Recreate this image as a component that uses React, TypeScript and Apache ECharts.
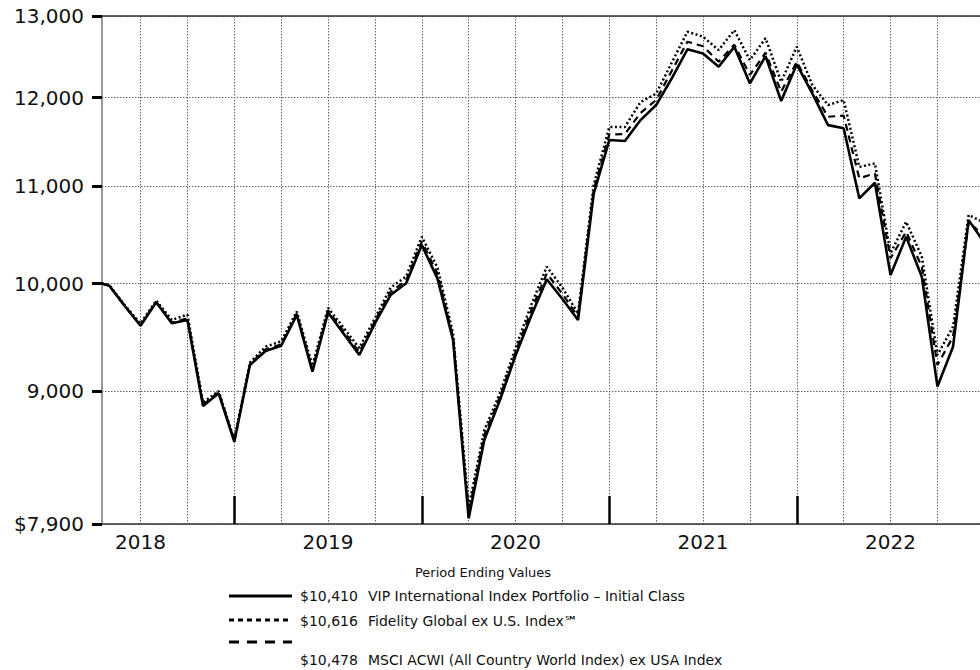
import React, { useEffect, useRef } from "react";
import * as echarts from "echarts";

// Inception date followed by month-end periods
const periods = [
  "2018-04-17", "2018-04", "2018-05", "2018-06", "2018-07", "2018-08", "2018-09", "2018-10", "2018-11", "2018-12",
  "2019-01", "2019-02", "2019-03", "2019-04", "2019-05", "2019-06", "2019-07", "2019-08", "2019-09", "2019-10", "2019-11", "2019-12",
  "2020-01", "2020-02", "2020-03", "2020-04", "2020-05", "2020-06", "2020-07", "2020-08", "2020-09", "2020-10", "2020-11", "2020-12",
  "2021-01", "2021-02", "2021-03", "2021-04", "2021-05", "2021-06", "2021-07", "2021-08", "2021-09", "2021-10", "2021-11", "2021-12",
  "2022-01", "2022-02", "2022-03", "2022-04", "2022-05", "2022-06", "2022-07", "2022-08", "2022-09", "2022-10", "2022-11", "2022-12",
];

const portfolio = [
  10000, 9980, 9780, 9595, 9818, 9618, 9649, 8869, 8980, 8564,
  9233, 9360, 9409, 9697, 9172, 9720, 9520, 9324, 9618, 9888, 10003, 10385,
  10051, 9462, 7944, 8578, 8921, 9320, 9687, 10042, 9850, 9649, 10918, 11511,
  11500, 11739, 11913, 12230, 12582, 12532, 12369, 12613, 12168, 12499, 11960, 12398,
  12047, 11681, 11645, 10872, 11039, 10084, 10470, 10068, 9041, 9400, 10642, 10410,
];

const globalExUS = [
  10000, 9985, 9790, 9615, 9835, 9650, 9700, 8900, 9000, 8580,
  9255, 9400, 9450, 9730, 9225, 9765, 9575, 9388, 9665, 9960, 10070, 10470,
  10160, 9524, 8030, 8660, 8980, 9390, 9792, 10167, 9960, 9712, 11014, 11658,
  11660, 11948, 12047, 12420, 12801, 12739, 12573, 12821, 12450, 12719, 12188, 12613,
  12148, 11912, 11972, 11212, 11251, 10302, 10625, 10267, 9324, 9586, 10696, 10616,
];

const acwiExUSA = [
  10000, 9980, 9780, 9600, 9822, 9625, 9665, 8880, 8990, 8570,
  9240, 9375, 9420, 9710, 9195, 9740, 9545, 9350, 9640, 9920, 10030, 10420,
  10100, 9490, 7990, 8620, 8950, 9350, 9740, 10100, 9900, 9680, 10960, 11574,
  11580, 11821, 11972, 12320, 12676, 12620, 12430, 12640, 12270, 12540, 12070, 12429,
  12080, 11777, 11790, 11088, 11140, 10251, 10521, 10167, 9233, 9493, 10620, 10478,
];

const yTicks = [7900, 9000, 10000, 11000, 12000, 13000];
const yearLabels = ["2018", "2019", "2020", "2021", "2022"];

const legendTitle = "Period Ending Values";
const legendValues = ["$10,410", "$10,616", "$10,478"];
const legendNames = [
  "VIP International Index Portfolio – Initial Class",
  "Fidelity Global ex U.S. Index℠",
  "MSCI ACWI (All Country World Index) ex USA Index",
];

const FONT = '"DejaVu Sans", Verdana, sans-serif';

function toX(p: string): number {
  const parts = p.split("-").map(Number);
  const y = parts[0];
  const m = parts[1];
  if (parts.length === 3) {
    const dim = new Date(y, m, 0).getDate();
    return (y - 2018) * 12 + (m - 1) + (parts[2] - 1) / dim;
  }
  return (y - 2018) * 12 + m;
}

export default function App() {
  const ref = useRef<HTMLDivElement>(null);

  useEffect(() => {
    if (!ref.current) return;
    const chart = echarts.init(ref.current, undefined, { renderer: "svg" });
    const xs = periods.map(toX);
    const xMin = xs[0];
    const xMax = xs[xs.length - 1];
    const quarterLines: number[] = [];
    for (let q = Math.ceil(xMin / 3) * 3; q <= xMax; q += 3) quarterLines.push(q);
    const yearTicks = yearLabels.slice(1).map((_, i) => (i + 1) * 12);
    const yearMids = yearLabels.map((_, i) => i * 12 + 6);

    const mk = (vals: number[]) => vals.map((v, i) => [xs[i], v]);

    const legendYs = [596, 620, 642];
    const textYs = [596, 621, 660];
    const dashes: any[] = [null, [5, 4], [10, 8]];

    const graphic: any[] = [
      {
        type: "text",
        x: 483,
        y: 572,
        style: { text: legendTitle, fill: "#111", font: `13px ${FONT}`, align: "center", verticalAlign: "middle" },
      },
    ];
    legendNames.forEach((name, i) => {
      graphic.push({
        type: "line",
        shape: { x1: 229, y1: legendYs[i], x2: 292, y2: legendYs[i] },
        style: { stroke: "#000", lineWidth: 3, lineDash: dashes[i] || undefined },
      });
      graphic.push({
        type: "text",
        x: 300,
        y: textYs[i],
        style: { text: legendValues[i], fill: "#111", font: `14px ${FONT}`, align: "left", verticalAlign: "middle" },
      });
      graphic.push({
        type: "text",
        x: 368,
        y: textYs[i],
        style: { text: name, fill: "#111", font: `14px ${FONT}`, align: "left", verticalAlign: "middle" },
      });
    });

    chart.setOption({
      animation: false,
      backgroundColor: "#fff",
      grid: { left: 102, top: 16, width: (xMax - xMin) * 15.625, height: 508 },
      xAxis: [
        {
          type: "value",
          min: xMin,
          max: xMax,
          position: "bottom",
          axisLine: { show: true, lineStyle: { color: "#333", width: 1.5 } },
          axisTick: {
            show: true,
            customValues: yearTicks,
            inside: true,
            length: 28,
            lineStyle: { color: "#000", width: 2.5 },
          },
          axisLabel: {
            show: true,
            customValues: yearMids,
            formatter: (v: number) => yearLabels[Math.round((v - 6) / 12)] || "",
            fontSize: 20,
            fontFamily: FONT,
            color: "#111",
            margin: 8,
          },
          splitLine: { show: false },
        },
        {
          type: "value",
          min: xMin,
          max: xMax,
          position: "top",
          axisLine: { show: true, lineStyle: { color: "#333", width: 1.5 } },
          axisTick: { show: false, customValues: quarterLines },
          axisLabel: { show: false },
          splitLine: { show: true, lineStyle: { color: "#666", width: 1, type: [1.5, 1.5] } },
        },
      ],
      yAxis: {
        type: "log",
        logBase: 10,
        min: yTicks[0],
        max: yTicks[yTicks.length - 1],
        axisLine: { show: true, lineStyle: { color: "#999", width: 2 } },
        axisTick: { show: true, customValues: yTicks, length: 10, lineStyle: { color: "#000", width: 3 } },
        axisLabel: {
          customValues: yTicks,
          formatter: (v: number) => (Math.round(v) === yTicks[0] ? "$" : "") + Math.round(v).toLocaleString("en-US"),
          fontSize: 20,
          fontFamily: FONT,
          color: "#111",
          margin: 18,
        },
        splitLine: { show: true, lineStyle: { color: "#666", width: 1, type: [1.5, 1.5] } },
      },
      series: [
        {
          name: legendNames[1],
          type: "line",
          data: mk(globalExUS),
          showSymbol: false,
          lineStyle: { color: "#000", width: 2.5, type: [2, 2.5] },
          z: 3,
        },
        {
          name: legendNames[2],
          type: "line",
          data: mk(acwiExUSA),
          showSymbol: false,
          lineStyle: { color: "#000", width: 2.2, type: [7, 5] },
          z: 4,
        },
        {
          name: legendNames[0],
          type: "line",
          data: mk(portfolio),
          showSymbol: false,
          lineStyle: { color: "#000", width: 2.6 },
          z: 5,
        },
      ],
      graphic,
    });
    return () => chart.dispose();
  }, []);

  return (
    <div style={{ position: "absolute", left: 0, top: 0, width: 980, height: 670, overflow: "hidden", background: "#fff" }}>
      <div ref={ref} style={{ width: 1000, height: 670 }} />
    </div>
  );
}
